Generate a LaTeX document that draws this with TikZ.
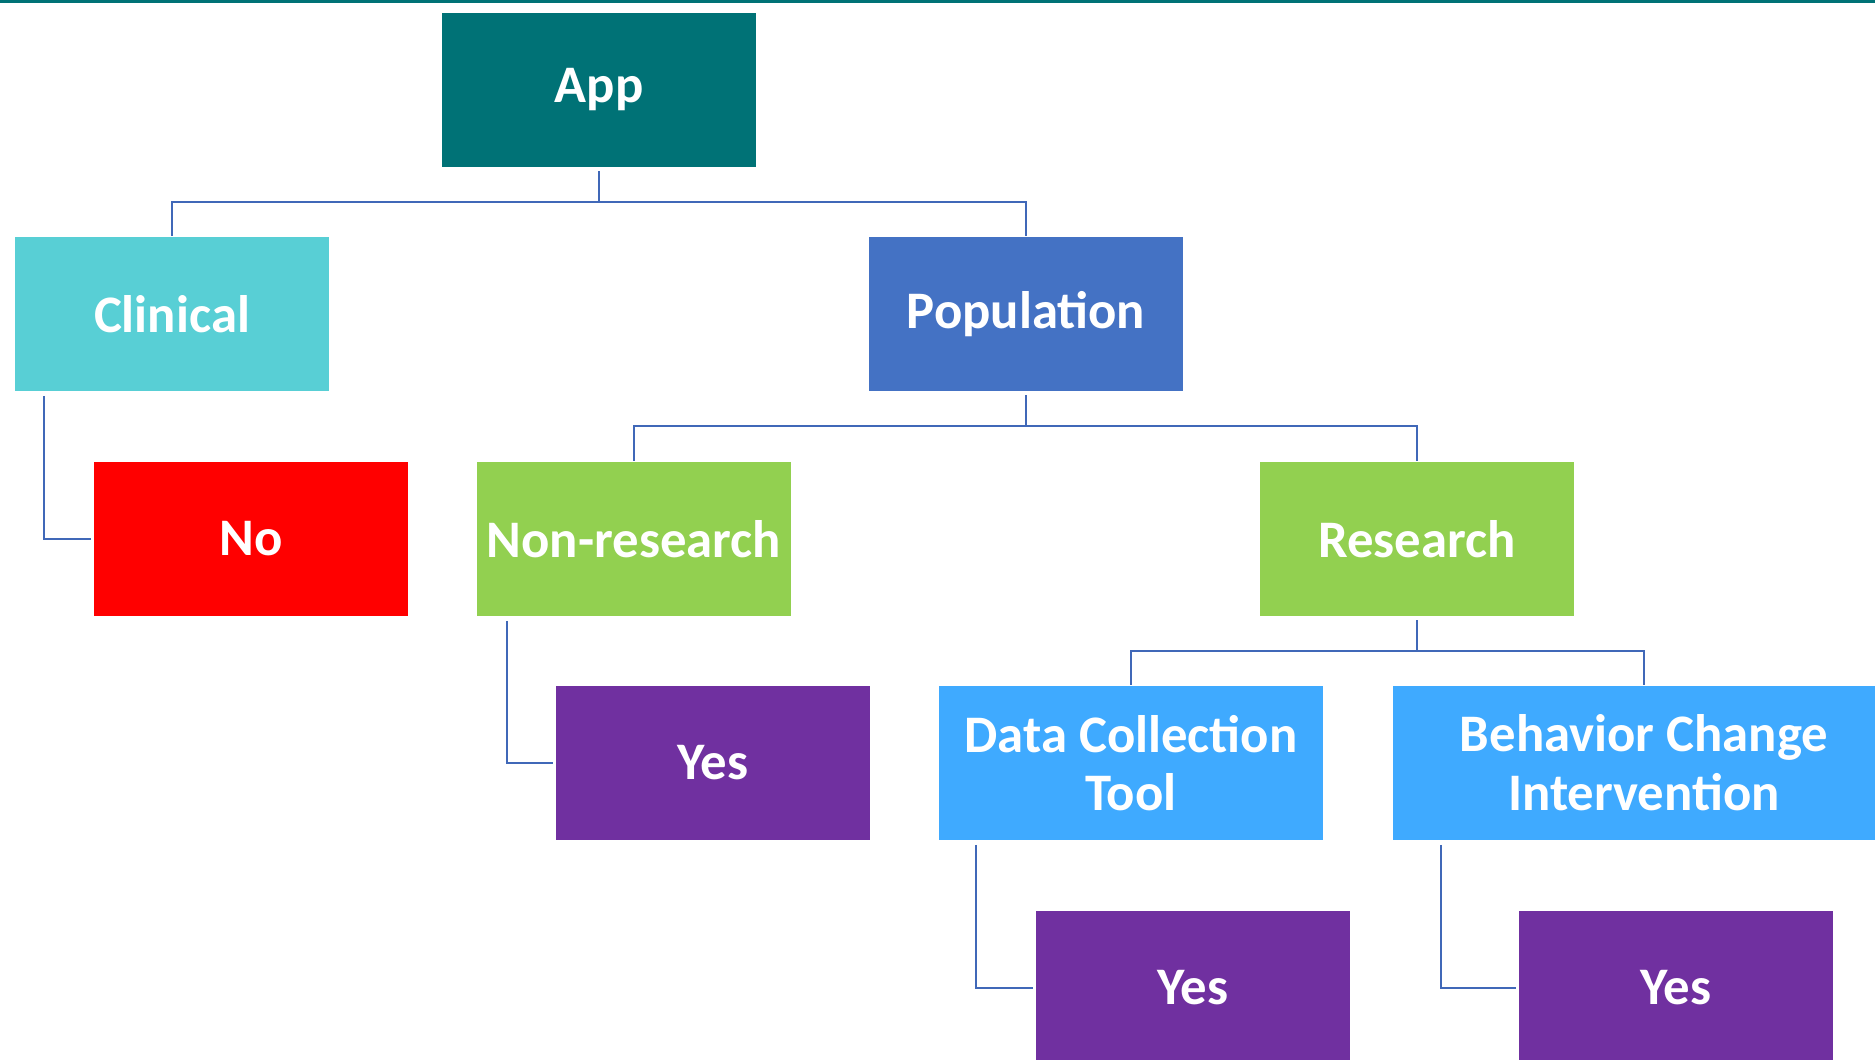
\documentclass[tikz,border=0pt]{standalone}
\usepackage{fontspec}
\setmainfont{Carlito}
\usetikzlibrary{calc}
\definecolor{appteal}{RGB}{0,114,118}
\definecolor{clinicalcyan}{RGB}{88,207,213}
\definecolor{popblue}{RGB}{68,114,196}
\definecolor{noRed}{RGB}{255,0,0}
\definecolor{leafgreen}{RGB}{146,208,80}
\definecolor{yespurple}{RGB}{112,48,160}
\definecolor{toolblue}{RGB}{63,170,255}
\definecolor{linkblue}{RGB}{64,104,184}
\tikzset{
  box/.style={rectangle, inner sep=0pt, minimum width=3.14cm, minimum height=1.54cm,
    text=white, align=center, font=\fontsize{15}{16.7}\selectfont\bfseries},
  link/.style={draw=linkblue, line width=0.65pt},
}
\begin{document}
\begin{tikzpicture}[x=0.01cm, y=-0.01cm]
  \useasboundingbox (0,0) rectangle (1875,1059);
  \clip (0,0) rectangle (1875,1059);
  % top rule
  \fill[appteal] (0,0) rectangle (1875,2.5);

  % boxes
  \node[box, fill=appteal]      (app)  at (599,90)   {App};
  \node[box, fill=clinicalcyan] (clin) at (172,314)  {Clinical};
  \node[box, fill=popblue]      (pop)  at (1026,314) {Population};
  \node[box, fill=noRed]        (no)   at (251,539)  {No};
  \node[box, fill=leafgreen]    (nonr) at (634,539)  {Non-research};
  \node[box, fill=leafgreen]    (res)  at (1417,539) {Research};
  \node[box, fill=yespurple]    (yesa) at (713,763)  {Yes};
  \node[box, fill=toolblue, minimum width=3.84cm] (dct) at (1131,763) {Data Collection\\Tool};
  \node[box, fill=toolblue, minimum width=5.02cm] (bci) at (1644,763) {Behavior Change\\Intervention};
  \node[box, fill=yespurple]    (yesb) at (1193,988) {Yes};
  \node[box, fill=yespurple]    (yesc) at (1676,988) {Yes};

  % tree connectors
  \draw[link] ([yshift=-1pt]app.south) -- ++(0,31) coordinate (appbar);
  \draw[link] ([yshift=0.2pt]clin.north) |- (appbar) -| ([yshift=0.2pt]pop.north);

  \draw[link] ([yshift=-1pt]pop.south) -- ++(0,31) coordinate (popbar);
  \draw[link] ([yshift=0.2pt]nonr.north) |- (popbar) -| ([yshift=0.2pt]res.north);

  \draw[link] ([yshift=-1pt]res.south) -- ++(0,31) coordinate (resbar);
  \draw[link] ([yshift=0.2pt]dct.north) |- (resbar) -| ([yshift=0.2pt]bci.north);

  % elbow connectors to the answers
  \draw[link] ($(clin.south west)+(30,4)$) |- ([xshift=-0.6pt]no.west);
  \draw[link] ($(nonr.south west)+(31,4)$) |- ([xshift=-0.6pt]yesa.west);
  \draw[link] ($(dct.south west)+(38,4)$) |- ([xshift=-0.6pt]yesb.west);
  \draw[link] ($(bci.south west)+(49,4)$) |- ([xshift=-0.6pt]yesc.west);
\end{tikzpicture}
\end{document}
